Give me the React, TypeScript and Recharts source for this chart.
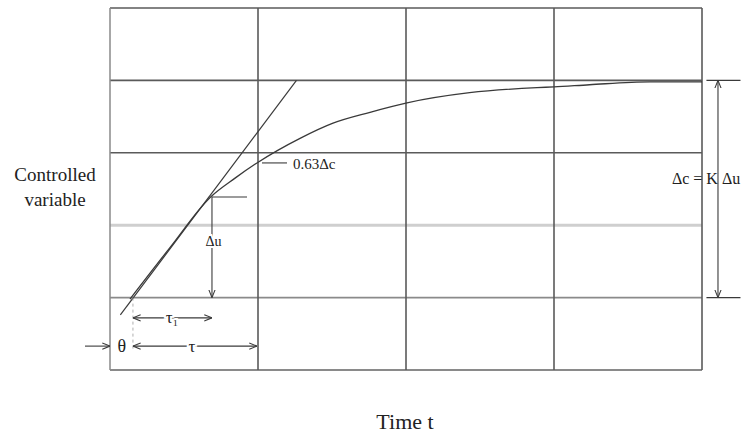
import { ComposedChart, Line, XAxis, YAxis, ReferenceLine, ReferenceDot } from "recharts";

// time axis runs 0..4 (one unit per grid column), response axis 0..5 (one unit per grid row)
const gridX = [0, 1, 2, 3, 4];
const gridY = [0, 1, 2, 3, 4, 5];

const curveT = [0.135, 0.405, 0.68, 0.845, 0.993, 1.284, 1.507, 1.757, 2.007, 2.43, 2.885, 3.0, 3.24, 3.65, 4.0];
const curveY = [0.98, 1.69, 2.39, 2.65, 2.86, 3.2, 3.41, 3.56, 3.69, 3.83, 3.9, 3.91, 3.94, 3.98, 3.98];

const tangentT = [0.07, 1.26];
const tangentY = [0.76, 4.0];

const curve = curveT.map((t, i) => ({ t, y: curveY[i] }));
const tangent = tangentT.map((t, i) => ({ t, y: tangentY[i] }));

const INK = "#3a3a3a";
const FONT = "'Liberation Serif', 'Times New Roman', serif";

const gridStyle = (v: number, axis: "x" | "y") => {
  if (axis === "y" && v === 2) return { stroke: "#cfcfcf", strokeWidth: 3 };
  if (axis === "y" && (v === 0 || v === 1)) return { stroke: "#8a8a8a", strokeWidth: 1.8 };
  if (axis === "x" && v === 0) return { stroke: "#8a8a8a", strokeWidth: 1.5 };
  return { stroke: "#5a5a5a", strokeWidth: 1.6 };
};

const note = (text: string, size: number, anchor: "start" | "middle" = "middle", halo = true) =>
  (p: any) => (
    <text
      x={p.cx}
      y={p.cy}
      fontFamily={FONT}
      fontSize={size}
      fill="#222"
      textAnchor={anchor}
      dominantBaseline="central"
      stroke={halo ? "#fff" : "none"}
      strokeWidth={halo ? 4 : 0}
      paintOrder="stroke"
    >
      {text}
    </text>
  );

const arrowLine = { stroke: INK, strokeWidth: 1.1 };

export default function App() {
  return (
    <div style={{ position: "absolute", left: 0, top: 0, width: 741, height: 435, background: "#fff" }}>
      <svg width={0} height={0} style={{ position: "absolute" }}>
        <defs>
          <marker id="ah" viewBox="0 0 10 10" refX="10" refY="5" markerWidth="7" markerHeight="7" orient="auto-start-reverse">
            <path d="M0,1 L10,5 L0,9" fill="none" stroke={INK} strokeWidth={1.4} />
          </marker>
        </defs>
      </svg>
      <ComposedChart width={741} height={435} margin={{ top: 8, right: 39, bottom: 65, left: 110 }}>
        <XAxis dataKey="t" type="number" domain={[0, 4]} ticks={gridX} hide allowDataOverflow />
        <YAxis type="number" domain={[0, 5]} ticks={gridY} hide allowDataOverflow />

        {gridY.map((v) => (
          <ReferenceLine key={"gy" + v} y={v} ifOverflow="visible" {...gridStyle(v, "y")} />
        ))}
        {gridX.map((v) => (
          <ReferenceLine key={"gx" + v} x={v} ifOverflow="visible" {...gridStyle(v, "x")} />
        ))}

        <Line data={tangent} dataKey="y" type="linear" stroke={INK} strokeWidth={1.2} dot={false} isAnimationActive={false} />
        <Line data={curve} dataKey="y" type="monotone" stroke={INK} strokeWidth={1.3} dot={false} isAnimationActive={false} />

        {/* tangent point marker and Δu */}
        <ReferenceLine segment={[{ x: 0.689, y: 2.39 }, { x: 0.926, y: 2.39 }]} ifOverflow="visible" {...arrowLine} />
        <ReferenceLine segment={[{ x: 0.689, y: 2.39 }, { x: 0.689, y: 1.0 }]} ifOverflow="visible" {...arrowLine} markerEnd="url(#ah)" />
        <ReferenceDot x={0.7} y={1.77} r={0} ifOverflow="visible" shape={note("Δu", 14)} />

        {/* 0.63Δc */}
        <ReferenceLine segment={[{ x: 1.027, y: 2.86 }, { x: 1.196, y: 2.86 }]} ifOverflow="visible" {...arrowLine} />
        <ReferenceDot x={1.236} y={2.84} r={0} ifOverflow="visible" shape={note("0.63Δc", 15, "start", false)} />

        {/* τ1 */}
        <ReferenceLine segment={[{ x: 0.155, y: 1.0 }, { x: 0.155, y: 0.26 }]} ifOverflow="visible" stroke="#9a9a9a" strokeWidth={0.8} strokeDasharray="3 3" />
        <ReferenceLine segment={[{ x: 0.155, y: 0.72 }, { x: 0.689, y: 0.72 }]} ifOverflow="visible" {...arrowLine} markerStart="url(#ah)" markerEnd="url(#ah)" />
        <ReferenceDot x={0.42} y={0.72} r={0} ifOverflow="visible" shape={note("τ₁", 17)} />

        {/* θ and τ */}
        <ReferenceLine segment={[{ x: -0.169, y: 0.33 }, { x: 0, y: 0.33 }]} ifOverflow="visible" {...arrowLine} markerEnd="url(#ah)" />
        <ReferenceDot x={0.08} y={0.33} r={0} ifOverflow="visible" shape={note("θ", 18)} />
        <ReferenceLine segment={[{ x: 0.155, y: 0.33 }, { x: 0.993, y: 0.33 }]} ifOverflow="visible" {...arrowLine} markerStart="url(#ah)" markerEnd="url(#ah)" />
        <ReferenceDot x={0.554} y={0.33} r={0} ifOverflow="visible" shape={note("τ", 17)} />

        {/* Δc = K Δu */}
        <ReferenceLine segment={[{ x: 4.03, y: 4.0 }, { x: 4.26, y: 4.0 }]} ifOverflow="visible" {...arrowLine} />
        <ReferenceLine segment={[{ x: 4.03, y: 1.0 }, { x: 4.26, y: 1.0 }]} ifOverflow="visible" {...arrowLine} />
        <ReferenceLine segment={[{ x: 4.108, y: 4.0 }, { x: 4.108, y: 1.0 }]} ifOverflow="visible" {...arrowLine} markerStart="url(#ah)" markerEnd="url(#ah)" />
        <ReferenceDot x={3.797} y={2.65} r={0} ifOverflow="visible" shape={note("Δc = K Δu", 16, "start", false)} />
      </ComposedChart>

      <div style={{ position: "absolute", left: 0, top: 162, width: 110, textAlign: "center", fontFamily: FONT, fontSize: 19, lineHeight: "25px", color: "#222" }}>
        Controlled
        <br />
        variable
      </div>
      <div style={{ position: "absolute", left: 355, top: 409, width: 100, textAlign: "center", fontFamily: FONT, fontSize: 22, color: "#222" }}>
        Time t
      </div>
    </div>
  );
}
